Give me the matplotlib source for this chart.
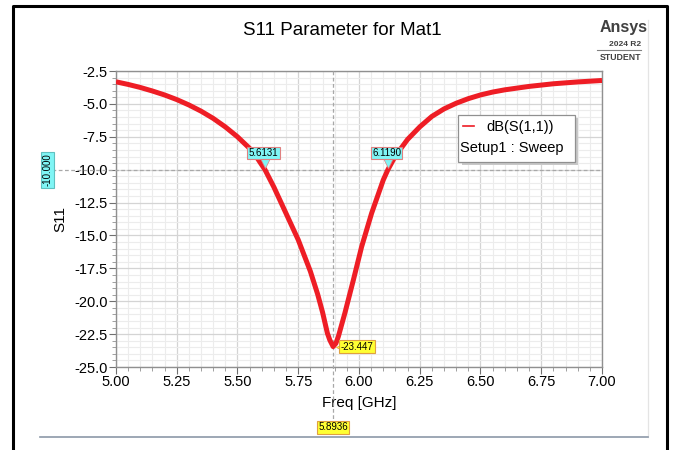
import matplotlib
matplotlib.use('Agg')
import matplotlib.pyplot as plt
from matplotlib.lines import Line2D
from matplotlib.patches import Rectangle
from matplotlib.ticker import MultipleLocator
from matplotlib.transforms import blended_transform_factory, offset_copy

plt.rcParams['font.family'] = ['Liberation Sans', 'DejaVu Sans']

# sweep result, dB(S(1,1)) vs frequency
freq_ghz = [5.00, 5.05, 5.10, 5.15, 5.20, 5.25, 5.30, 5.35, 5.40, 5.45, 5.50,
            5.55, 5.58, 5.6131, 5.65, 5.70, 5.75, 5.80, 5.83, 5.85, 5.87, 5.88, 5.8936,
            5.905, 5.915, 5.942, 5.977, 6.011, 6.052, 6.10, 6.119, 6.15, 6.20, 6.25,
            6.30, 6.35, 6.40, 6.45, 6.50, 6.55, 6.60, 6.70, 6.80, 6.90, 7.00]
s11_db = [-3.32, -3.52, -3.75, -4.02, -4.32, -4.67, -5.08, -5.55, -6.10, -6.75, -7.50,
          -8.38, -9.08, -10.00, -11.33, -13.33, -15.33, -17.73, -19.47, -20.83, -22.43, -22.95, -23.447,
          -23.20, -22.69, -20.90, -18.38, -15.85, -13.31, -10.78, -10.00, -8.95, -7.70, -6.75,
          -5.95, -5.38, -4.95, -4.60, -4.32, -4.10, -3.93, -3.67, -3.47, -3.33, -3.22]

x_ticks = [5.00, 5.25, 5.50, 5.75, 6.00, 6.25, 6.50, 6.75, 7.00]
y_ticks = [-2.5, -5.0, -7.5, -10.0, -12.5, -15.0, -17.5, -20.0, -22.5, -25.0]

level_db = -10.0
cross_lo, cross_hi = 5.6131, 6.1190
f_min, s11_min = 5.8936, -23.447

title = 'S11 Parameter for Mat1'
trace_name = 'dB(S(1,1))'
setup_name = 'Setup1 : Sweep'

red = '#ee1d25'
cyan = '#7ff5f5'
yellow = '#ffff33'

fig = plt.figure(figsize=(6.77, 4.5), dpi=100)
ax = fig.add_axes([0.1713, 0.1844, 0.7179, 0.6578])

ax.plot(freq_ghz, s11_db, color=red, lw=3.6, solid_joinstyle='round',
        solid_capstyle='butt', zorder=5)

ax.set_xlim(5.0, 7.0)
ax.set_ylim(-25.0, -2.5)
ax.set_xticks(x_ticks)
ax.set_xticklabels(['%.2f' % v for v in x_ticks])
ax.set_yticks(y_ticks)
ax.set_yticklabels(['%.1f' % v for v in y_ticks])
ax.xaxis.set_minor_locator(MultipleLocator(0.05))
ax.yaxis.set_minor_locator(MultipleLocator(0.5))
ax.grid(which='major', color='#d4d4d4', lw=0.9)
ax.grid(which='minor', color='#ececec', lw=0.8)
ax.set_axisbelow(True)
ax.tick_params(which='major', length=5, width=0.8, color='#707070', labelsize=10.5, pad=1)
ax.tick_params(which='minor', length=3, width=0.6, color='#909090')
for sp in ax.spines.values():
    sp.set_color('#909090')
    sp.set_linewidth(1.0)

ax.set_xlabel('Freq [GHz]', fontsize=11, labelpad=5)
ax.set_ylabel('S11', fontsize=11, labelpad=5)
fig.text(0.505, 0.933, title, ha='center', va='center', fontsize=13.5)

# marker lines
bx = blended_transform_factory(ax.transData, ax.transAxes)
by = blended_transform_factory(ax.transAxes, ax.transData)
ax.plot([f_min, f_min], [1.0, -0.186], transform=bx, color='#a8a8a8', lw=0.9,
        ls=(0, (3, 2)), clip_on=False, zorder=3)
ax.plot([-0.132, 1.0], [level_db, level_db], transform=by, color='#a8a8a8', lw=0.9,
        ls=(0, (3, 2)), clip_on=False, zorder=3)

# -10 dB crossing labels
for fx in (cross_lo, cross_hi):
    tri = offset_copy(ax.transData, fig=fig, x=0, y=5, units='points')
    ax.plot([fx], [level_db], marker='v', ms=7, color=cyan, mec='#e08080', mew=0.5,
            transform=tri, zorder=7)
    ax.annotate('%.4f' % fx, (fx, level_db), xytext=(-1, 12), textcoords='offset points',
                ha='center', va='center', fontsize=7, zorder=8,
                bbox=dict(boxstyle='square,pad=0.15', fc=cyan, ec='#e08080', lw=0.8))

# minimum label
tri = offset_copy(ax.transData, fig=fig, x=5, y=0, units='points')
ax.plot([f_min], [s11_min], marker='<', ms=6, color=yellow, mec='#e0a040', mew=0.5,
        transform=tri, zorder=7)
ax.annotate('%.3f' % s11_min, (f_min, s11_min), xytext=(17, 0), textcoords='offset points',
            ha='center', va='center', fontsize=7, zorder=8,
            bbox=dict(boxstyle='square,pad=0.15', fc=yellow, ec='#e0a040', lw=0.8))
ax.text(f_min, -0.203, '%.4f' % f_min, transform=bx, ha='center', va='center', fontsize=7,
        clip_on=False, bbox=dict(boxstyle='square,pad=0.15', fc=yellow, ec='#e0a040', lw=0.8))
ax.text(-0.14, level_db, '%.3f' % level_db, transform=by, ha='center', va='center',
        rotation=90, fontsize=7, clip_on=False,
        bbox=dict(boxstyle='square,pad=0.15', fc=cyan, ec='#60c0c0', lw=0.8))

# legend box
ax.add_patch(Rectangle((0.711, 0.683), 0.240, 0.158, transform=ax.transAxes,
                       fc='#c8c8c8', ec='none', zorder=8))
ax.add_patch(Rectangle((0.704, 0.693), 0.240, 0.158, transform=ax.transAxes,
                       fc='white', ec='#909090', lw=0.9, zorder=9))
ax.plot([0.714, 0.737], [0.815, 0.815], transform=ax.transAxes, color=red, lw=1.2, zorder=10)
ax.text(0.762, 0.812, trace_name, transform=ax.transAxes, ha='left', va='center',
        fontsize=10.5, zorder=10)
ax.text(0.708, 0.739, setup_name, transform=ax.transAxes, ha='left', va='center',
        fontsize=10.5, zorder=10)

# product badge
fig.text(0.957, 0.938, 'Ansys', ha='right', va='center', fontsize=11.5,
         fontweight='bold', color='#404040')
fig.text(0.947, 0.902, '2024 R2', ha='right', va='center', fontsize=6,
         fontweight='bold', color='#404040')
fig.add_artist(Line2D([0.882, 0.947], [0.888, 0.888], color='#808080', lw=0.8))
fig.text(0.947, 0.872, 'STUDENT', ha='right', va='center', fontsize=6.3,
         fontweight='bold', color='#404040')

# window frame
fig.add_artist(Line2D([0.0195, 0.0195, 0.9855, 0.9855], [0.0, 0.986, 0.986, 0.0],
                      color='black', lw=2.2))
fig.add_artist(Line2D([0.957, 0.957], [0.955, 0.029], color='#e4e4e4', lw=0.9))
fig.add_artist(Line2D([0.059, 0.957], [0.029, 0.029], color='#8c98a8', lw=1.2))

fig.savefig('out.png', dpi=100)
